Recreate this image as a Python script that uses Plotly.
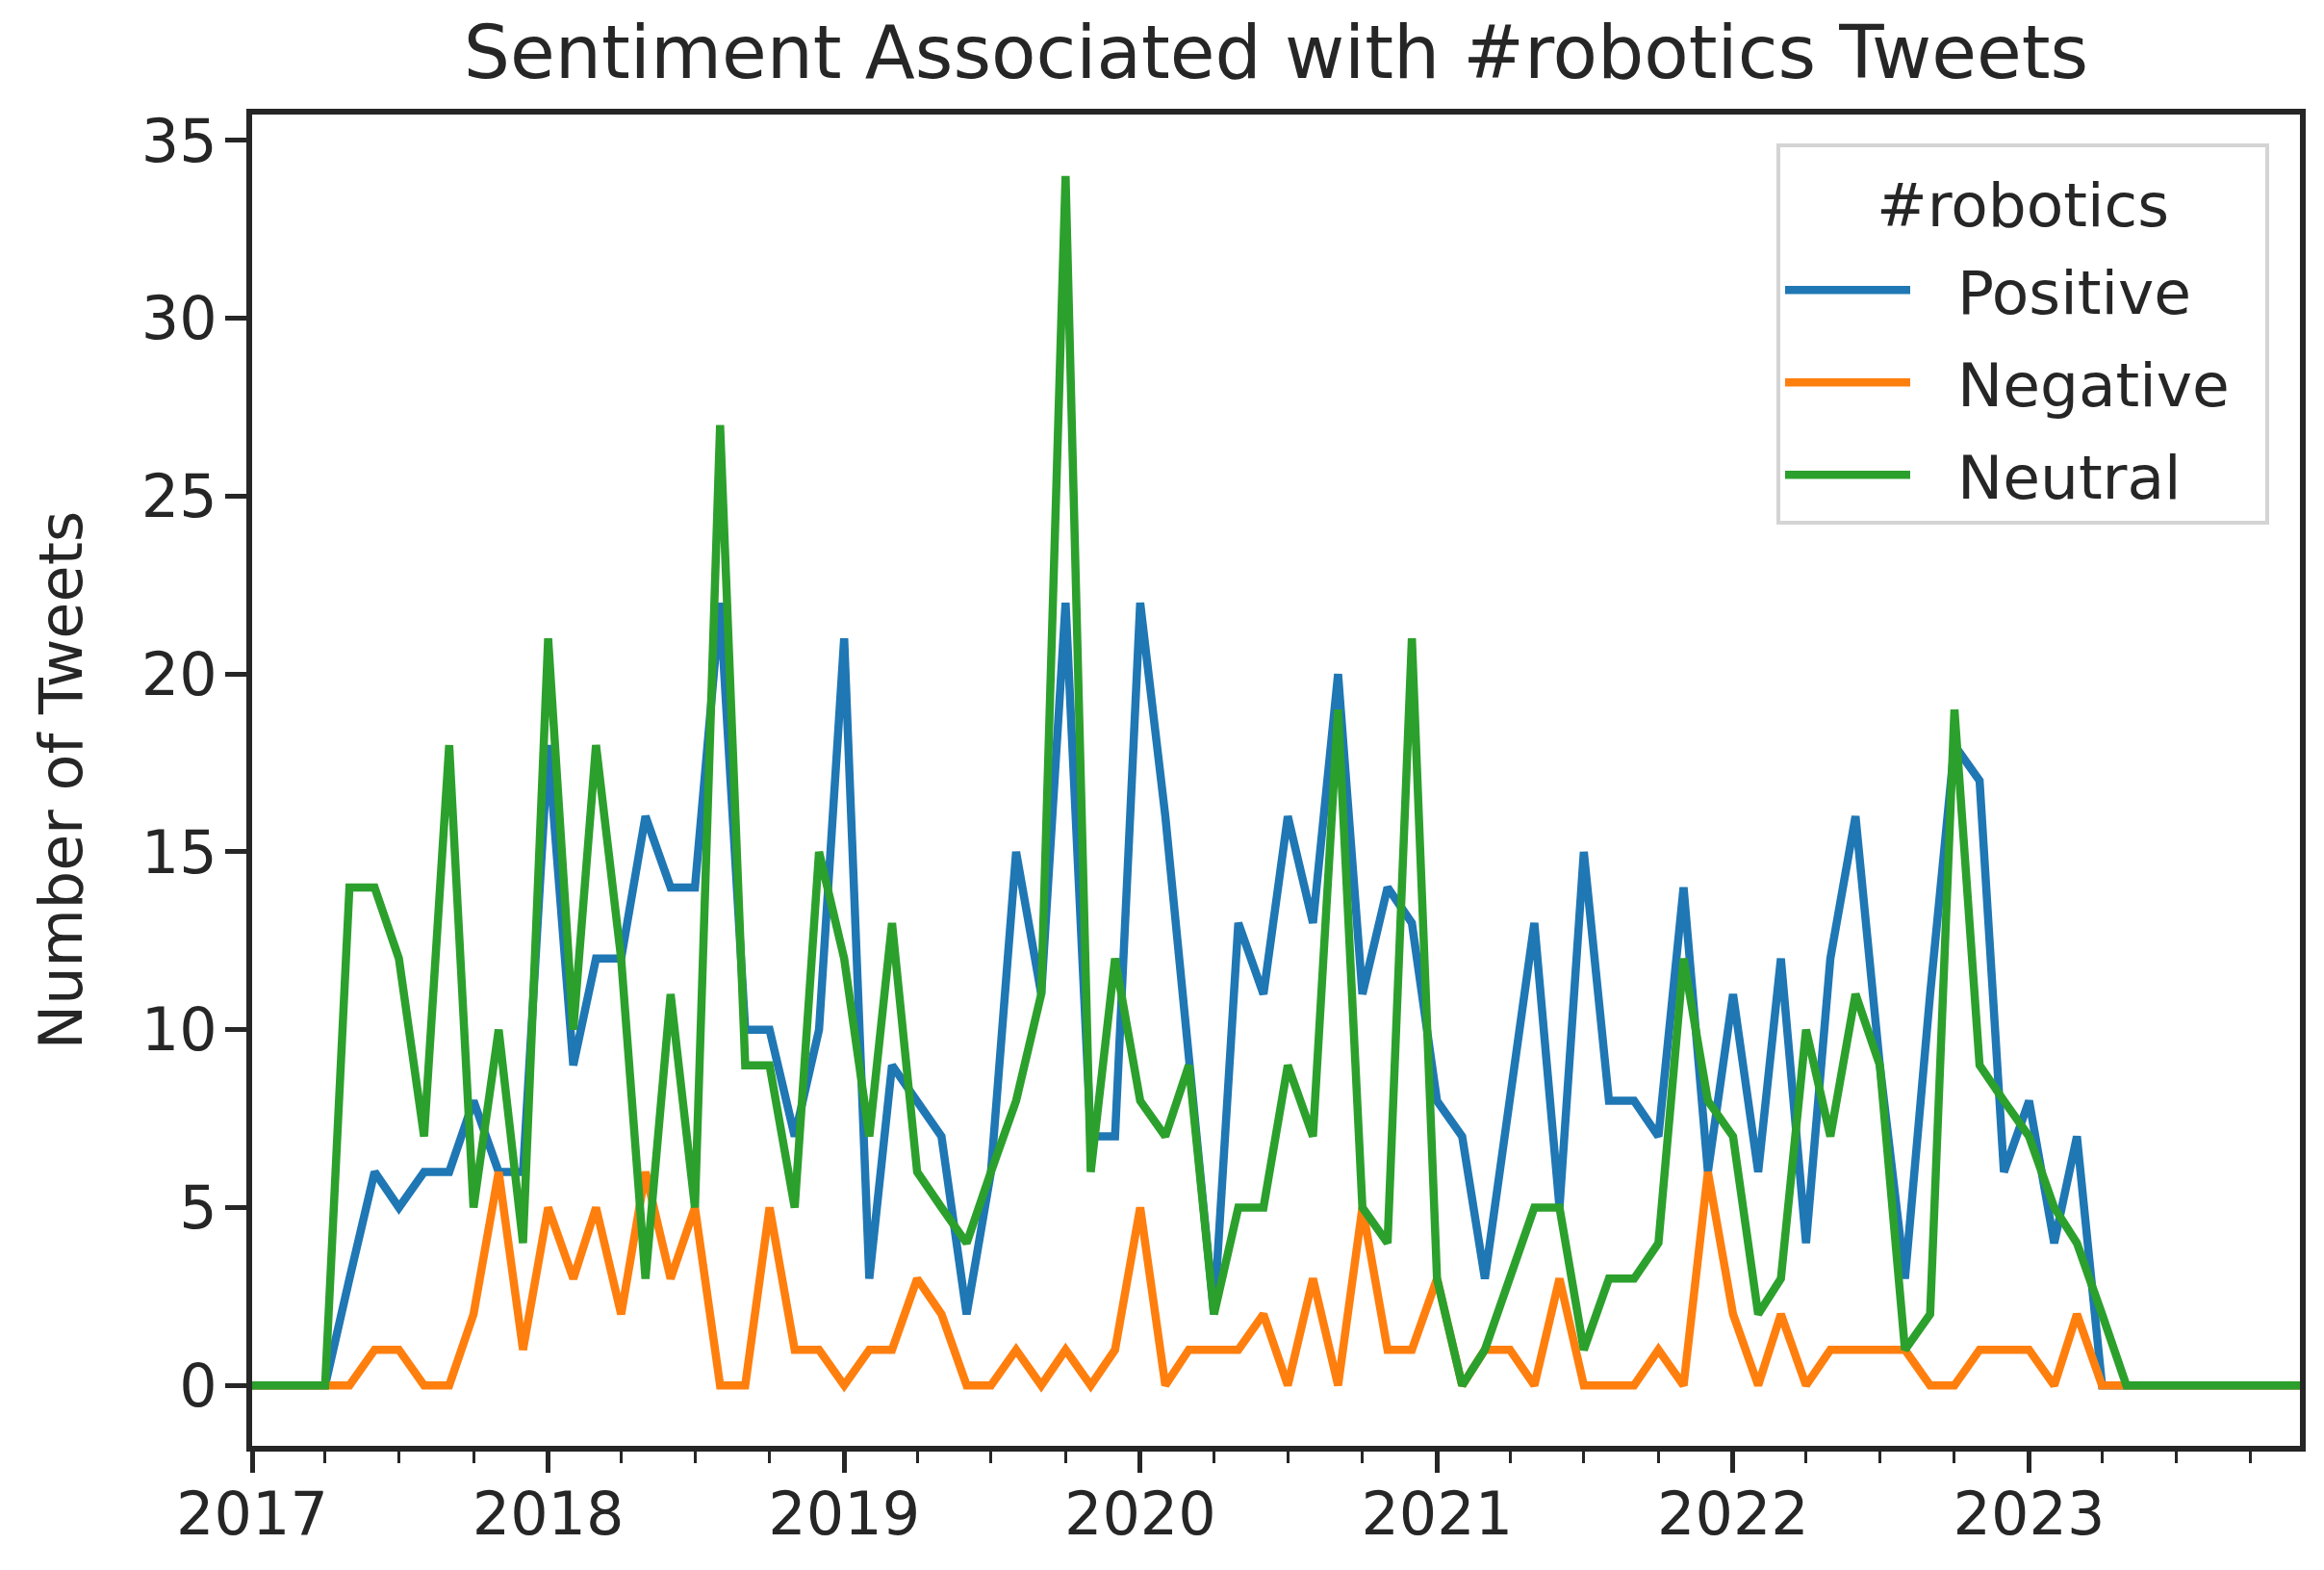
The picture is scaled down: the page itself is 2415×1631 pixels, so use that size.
import pandas as pd
import plotly.graph_objects as go

# Monthly counts, 2017-01 .. 2023-12
months = pd.date_range("2017-01-01", "2023-12-01", freq="MS")

positive = [
    0, 0, 0, 0, 3, 6, 5, 6, 6, 8, 6, 6,          # 2017
    18, 9, 12, 12, 16, 14, 14, 22, 10, 10, 7, 10,  # 2018
    21, 3, 9, 8, 7, 2, 6, 15, 11, 22, 7, 7,        # 2019
    22, 16, 9, 2, 13, 11, 16, 13, 20, 11, 14, 13,  # 2020
    8, 7, 3, 8, 13, 5, 15, 8, 8, 7, 14, 6,         # 2021
    11, 6, 12, 4, 12, 16, 9, 3, 11, 18, 17, 6,     # 2022
    8, 4, 7, 0, 0, 0, 0, 0, 0, 0, 0, 0,            # 2023
]
negative = [
    0, 0, 0, 0, 0, 1, 1, 0, 0, 2, 6, 1,
    5, 3, 5, 2, 6, 3, 5, 0, 0, 5, 1, 1,
    0, 1, 1, 3, 2, 0, 0, 1, 0, 1, 0, 1,
    5, 0, 1, 1, 1, 2, 0, 3, 0, 5, 1, 1,
    3, 0, 1, 1, 0, 3, 0, 0, 0, 1, 0, 6,
    2, 0, 2, 0, 1, 1, 1, 1, 0, 0, 1, 1,
    1, 0, 2, 0, 0, 0, 0, 0, 0, 0, 0, 0,
]
neutral = [
    0, 0, 0, 0, 14, 14, 12, 7, 18, 5, 10, 4,
    21, 10, 18, 12, 3, 11, 5, 27, 9, 9, 5, 15,
    12, 7, 13, 6, 5, 4, 6, 8, 11, 34, 6, 12,
    8, 7, 9, 2, 5, 5, 9, 7, 19, 5, 4, 21,
    3, 0, 1, 3, 5, 5, 1, 3, 3, 4, 12, 8,
    7, 2, 3, 10, 7, 11, 9, 1, 2, 19, 9, 8,
    7, 5, 4, 2, 0, 0, 0, 0, 0, 0, 0, 0,
]

series_names = ["Positive", "Negative", "Neutral"]
series_values = [positive, negative, neutral]
series_colors = ["#1f77b4", "#ff7f0e", "#2ca02c"]

year_ticks = ["2017-01-01", "2018-01-01", "2019-01-01", "2020-01-01",
              "2021-01-01", "2022-01-01", "2023-01-01"]
year_labels = ["2017", "2018", "2019", "2020", "2021", "2022", "2023"]
y_ticks = [0, 5, 10, 15, 20, 25, 30, 35]

FONT = "DejaVu Sans"
INK = "#262626"

fig = go.Figure()
for i, (name, vals, col) in enumerate(zip(series_names, series_values, series_colors)):
    extra = {}
    if i == 0:
        # small spacer between the legend title and the first entry
        extra["legendgrouptitle"] = dict(text="\u2009", font=dict(size=9))
    fig.add_trace(go.Scatter(
        x=months, y=vals, mode="lines",
        name="\u2002\u2009" + name + "\u2002",
        legendgroup=name,
        line=dict(color=col, width=8.5), **extra))

# The page body has an 8px default margin, so the figure is made 8px smaller
# and its internal geometry is offset to land on the reference pixels.
OFF = 8
W, H = 2415 - OFF, 1631 - OFF
L, R, T, B = 262 - OFF, 25, 119 - OFF, 129

fig.update_layout(
    width=W, height=H,
    margin=dict(l=L, r=R, t=T, b=B, autoexpand=False),
    paper_bgcolor="white", plot_bgcolor="white",
    font=dict(family=FONT, size=63, color=INK),
    title=dict(text="Sentiment Associated with #robotics Tweets",
               x=0.5, xref="paper", xanchor="center",
               y=1 - 46 / H, yref="container", yanchor="middle",
               font=dict(family=FONT, size=76, color=INK)),
    legend=dict(
        title=dict(text="#robotics", side="top center",
                   font=dict(family=FONT, size=63, color=INK)),
        x=1 - (2390 - 2358) / 2128, xanchor="right",
        y=1 - (149 - 119) / 1383, yanchor="top",
        bgcolor="white", bordercolor="#d4d4d4", borderwidth=4,
        font=dict(family=FONT, size=63, color=INK),
        itemwidth=130,
        tracegroupgap=11,
    ),
    showlegend=True,
)

fig.update_xaxes(
    type="date", automargin=False,
    range=["2017-01-01", "2023-12-01"],
    tickmode="array", tickvals=year_ticks, ticktext=year_labels,
    ticks="outside", ticklen=22, tickwidth=5, tickcolor=INK,
    ticklabelstandoff=-10,
    showline=True, linewidth=6, linecolor=INK, mirror=True,
    showgrid=False, zeroline=False,
    tickfont=dict(family=FONT, size=62, color=INK),
    minor=dict(ticks="outside", ticklen=12, tickwidth=3, tickcolor=INK,
               dtick="M3", tick0="2017-01-01", showgrid=False),
)
fig.update_yaxes(
    automargin=False,
    range=[-1.7, 35.73],
    tickmode="array", tickvals=y_ticks, ticktext=[str(v) for v in y_ticks],
    ticks="outside", ticklen=22, tickwidth=5, tickcolor=INK,
    ticklabelstandoff=-4,
    showline=True, linewidth=6, linecolor=INK, mirror=True,
    showgrid=False, zeroline=False,
    tickfont=dict(family=FONT, size=62, color=INK),
    title=dict(text="Number of Tweets", standoff=43,
               font=dict(family=FONT, size=62, color=INK)),
)

fig.write_html("out.html")
